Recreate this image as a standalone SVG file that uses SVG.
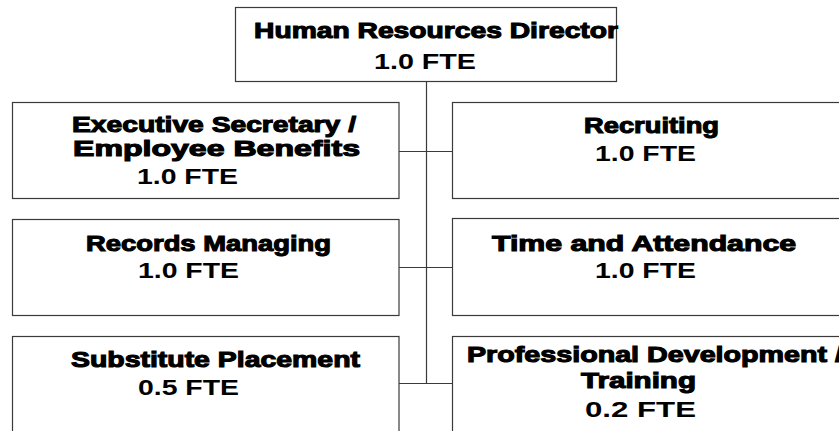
<svg xmlns="http://www.w3.org/2000/svg" width="839" height="431" viewBox="0 0 839 431">
  <style>
    .box { fill: #ffffff; stroke: #3a3a3a; stroke-width: 1.2; }
    .link { fill: none; stroke: #3a3a3a; stroke-width: 1.2; }
    text { font-family: "Liberation Sans", Arial, sans-serif; font-size: 22.5px; font-weight: bold; fill: #000; }
    .title { font-size: 22.5px; stroke: #000; stroke-width: 1.1; }
  </style>
  <rect width="839" height="431" fill="#ffffff"/>

  <!-- reporting lines -->
  <g id="connectors">
    <path class="link" d="M426.5 81 V383.5"/>
    <path class="link" d="M399 151.5 H452"/>
    <path class="link" d="M399 267.5 H452"/>
    <path class="link" d="M399 383.5 H452"/>
  </g>

  <g id="director">
    <rect class="box" x="235.5" y="7.5" width="381" height="74"/>
    <text class="title" x="254" y="38" textLength="364" lengthAdjust="spacingAndGlyphs">Human Resources Director</text>
    <text x="374" y="69" textLength="102" lengthAdjust="spacingAndGlyphs">1.0 FTE</text>
  </g>

  <g id="exec-secretary">
    <rect class="box" x="12.5" y="102.5" width="386.5" height="96"/>
    <text class="title" x="72" y="132" textLength="284" lengthAdjust="spacingAndGlyphs">Executive Secretary /</text>
    <text class="title" x="73" y="156" textLength="287" lengthAdjust="spacingAndGlyphs">Employee Benefits</text>
    <text x="137" y="184" textLength="101" lengthAdjust="spacingAndGlyphs">1.0 FTE</text>
  </g>

  <g id="recruiting">
    <rect class="box" x="452.5" y="102.5" width="400" height="96"/>
    <text class="title" x="584" y="133" textLength="135" lengthAdjust="spacingAndGlyphs">Recruiting</text>
    <text x="595" y="161" textLength="101" lengthAdjust="spacingAndGlyphs">1.0 FTE</text>
  </g>

  <g id="records">
    <rect class="box" x="12.5" y="219.5" width="386.5" height="96"/>
    <text class="title" x="86" y="251" textLength="245" lengthAdjust="spacingAndGlyphs">Records Managing</text>
    <text x="138" y="278" textLength="101" lengthAdjust="spacingAndGlyphs">1.0 FTE</text>
  </g>

  <g id="time-attendance">
    <rect class="box" x="452.5" y="218.5" width="400" height="97"/>
    <text class="title" x="492" y="251" textLength="304" lengthAdjust="spacingAndGlyphs">Time and Attendance</text>
    <text x="595" y="278" textLength="101" lengthAdjust="spacingAndGlyphs">1.0 FTE</text>
  </g>

  <g id="substitute">
    <rect class="box" x="12.5" y="336.5" width="386.5" height="110"/>
    <text class="title" x="71" y="367" textLength="289" lengthAdjust="spacingAndGlyphs">Substitute Placement</text>
    <text x="138" y="395" textLength="101" lengthAdjust="spacingAndGlyphs">0.5 FTE</text>
  </g>

  <g id="prof-development">
    <rect class="box" x="452.5" y="336.5" width="400" height="110"/>
    <text class="title" x="467" y="362" textLength="376" lengthAdjust="spacingAndGlyphs">Professional Development /</text>
    <text class="title" x="581" y="388" textLength="115" lengthAdjust="spacingAndGlyphs">Training</text>
    <text x="585" y="417" textLength="111" lengthAdjust="spacingAndGlyphs">0.2 FTE</text>
  </g>
</svg>
